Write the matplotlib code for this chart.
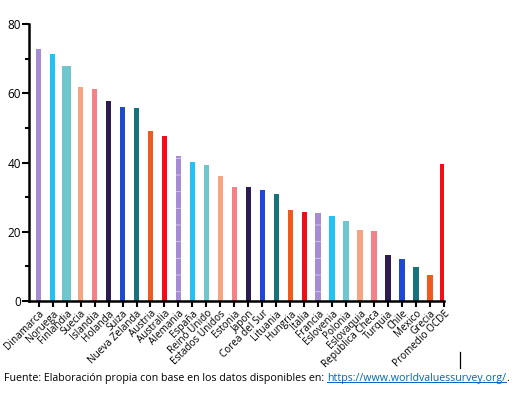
import matplotlib
matplotlib.use("Agg")
import matplotlib.pyplot as plt
from matplotlib.ticker import MultipleLocator

paises = ["Dinamarca", "Noruega", "Finlandia", "Suecia", "Islandia", "Holanda", "Suiza",
          "Nueva Zelanda", "Austria", "Australia", "Alemania", "España", "Reino Unido",
          "Estados Unidos", "Estonia", "Japon", "Corea del Sur", "Lituania", "Hungria",
          "Italia", "Francia", "Eslovenia", "Polonia", "Eslovaquia", "Republica Checa",
          "Turquia", "Chile", "Mexico", "Grecia", "Promedio OCDE"]
valores = [73.0, 71.3, 68.1, 62.0, 61.4, 57.7, 56.2, 55.8, 49.0, 47.7, 41.8, 40.1, 39.4,
           36.2, 33.0, 32.8, 32.1, 30.8, 26.3, 25.8, 25.5, 24.4, 23.2, 20.6, 20.3,
           13.1, 12.1, 9.6, 7.5, 39.6]

paleta = ["#A68BD5", "#22C2F6", "#70C6CD", "#F9A480", "#F58088",
          "#2B1B50", "#1F47D8", "#17737B", "#F2591D", "#F20E18"]

plt.rcParams["font.family"] = ["Open Sans", "DejaVu Sans"]
plt.rcParams["hatch.linewidth"] = 0.6

fig = plt.figure(figsize=(5.22, 3.94), dpi=100)
ax = fig.add_axes([0.0556, 0.237, 0.795, 0.701])

x = list(range(len(paises)))
for i, (p, v) in enumerate(zip(paises, valores)):
    color = paleta[i % len(paleta)]
    ancho = 0.39
    if p == "Finlandia":
        ancho = 0.62
    if p == "Promedio OCDE":
        ancho = 0.52
    if p in ("Alemania", "Francia"):
        ax.bar(i, v, width=ancho, color=color, edgecolor="#D9CCF0", hatch="-", linewidth=0)
    else:
        ax.bar(i, v, width=ancho, color=color, linewidth=0)

ax.set_xlim(-0.69, 28.8)
ax.set_ylim(0, 80)
ax.yaxis.set_major_locator(MultipleLocator(20))
ax.yaxis.set_minor_locator(MultipleLocator(10))
ax.set_xticks(x)
ax.set_xticklabels(paises, rotation=45, ha="right", rotation_mode="anchor", fontsize=7.2)
ax.tick_params(axis="y", which="major", length=5, width=1.5, labelsize=8.5, pad=1)
ax.tick_params(axis="y", which="minor", length=3, width=1.5)
ax.tick_params(axis="x", length=4, width=1.5, pad=1.5)

for s in ["top", "right"]:
    ax.spines[s].set_visible(False)
for s in ["left", "bottom"]:
    ax.spines[s].set_linewidth(1.8)
    ax.spines[s].set_color("black")

# fuente
t1 = fig.text(0.008, 0.033, "Fuente: Elaboración propia con base en los datos disponibles en: ",
              fontsize=7.7, va="baseline")
t2 = ax.annotate("https://www.worldvaluessurvey.org/", xy=(1, 0), xycoords=t1,
                 va="bottom", ha="left", fontsize=7.7, color="#0563C1",
                 annotation_clip=False)
t3 = ax.annotate(".", xy=(1, 0), xycoords=t2, va="bottom", ha="left", fontsize=7.7,
                 annotation_clip=False)
fig.canvas.draw()
bb = t2.get_window_extent()
y_sub = (bb.y0 + 2) / fig.bbox.height
fig.add_artist(plt.Line2D([bb.x0 / fig.bbox.width, bb.x1 / fig.bbox.width], [y_sub, y_sub],
                          color="#0563C1", linewidth=0.7))
# cursor
fig.add_artist(plt.Line2D([0.881, 0.881], [0.066, 0.106], color="black", linewidth=0.9))

fig.savefig("out.png", dpi=100)
